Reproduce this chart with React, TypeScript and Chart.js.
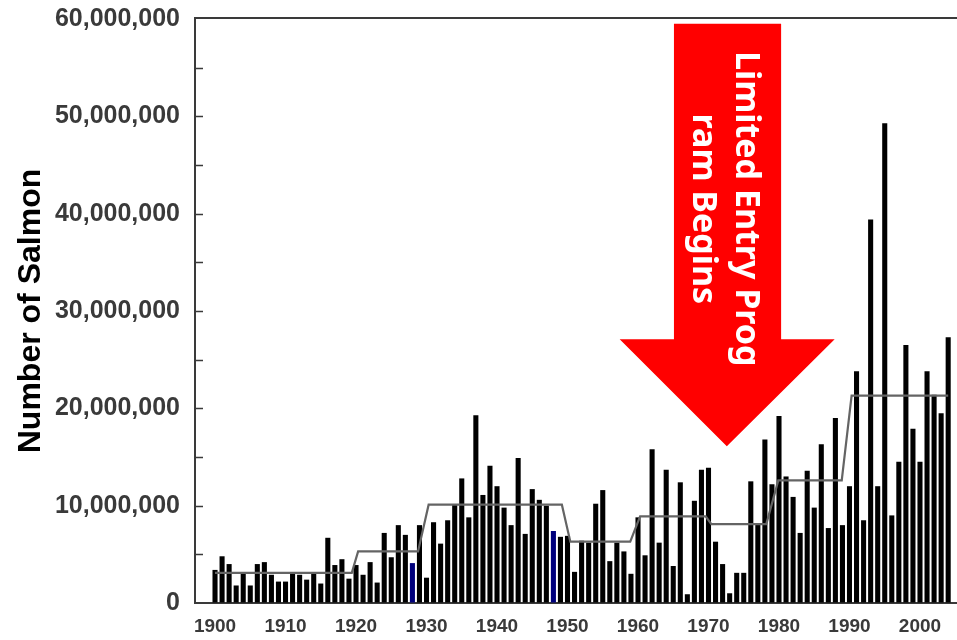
import { useEffect, useRef } from "react";
import { Chart, registerables } from "chart.js";

Chart.register(...registerables);

const MILLION = 1000000;

// Categories: one bar per year
const firstYear = 1900;
const lastYear = 2004;
const years: number[] = [];
for (let yr = firstYear; yr <= lastYear; yr++) years.push(yr);

// Number of salmon (millions) per year
const salmonMillions = [
  3.4, 4.8, 4.0, 1.8, 3.0, 1.8, 4.0, 4.2, 2.9, 2.2, // 1900-1909
  2.2, 3.0, 2.9, 2.4, 3.0, 2.0, 6.7, 3.9, 4.5, 2.5, // 1910-1919
  3.9, 2.9, 4.2, 2.1, 7.2, 4.7, 8.0, 7.0, 4.1, 8.0, // 1920-1929
  2.6, 8.3, 6.1, 8.5, 10.1, 12.8, 8.8, 19.3, 11.1, 14.1, // 1930-1939
  12.0, 9.8, 8.0, 14.9, 7.1, 11.7, 10.6, 10.0, 7.4, 6.8, // 1940-1949
  6.9, 3.2, 6.4, 6.2, 10.2, 11.6, 4.3, 6.2, 5.3, 3.0, // 1950-1959
  8.8, 4.9, 15.8, 6.2, 13.7, 3.8, 12.4, 0.9, 10.5, 13.7, // 1960-1969
  13.9, 6.3, 4.0, 1.0, 3.1, 3.1, 12.5, 8.1, 16.8, 12.2, // 1970-1979
  19.2, 13.0, 10.9, 7.2, 13.6, 9.8, 16.3, 7.7, 19.0, 8.0, // 1980-1989
  12.0, 23.8, 8.5, 39.4, 12.0, 49.3, 9.0, 14.5, 26.5, 17.9, // 1990-1999
  14.5, 23.8, 21.4, 19.5, 27.3, // 2000-2004
];

// Years drawn in dark blue
const highlightYears = [1928, 1948];

// Regime mean (step line) vertices
const trendYears = [1900, 1919.4, 1920.3, 1928.8, 1930.3, 1949.2, 1950.4, 1958.9, 1960.3, 1969.6, 1970.4, 1978.2, 1979.9, 1988.9, 1990.3, 2004];
const trendMillions = [3.1, 3.1, 5.3, 5.3, 10.1, 10.1, 6.3, 6.3, 8.9, 8.9, 8.1, 8.1, 12.6, 12.6, 21.3, 21.3];

// Axis ticks
const xTickYears = [1900, 1910, 1920, 1930, 1940, 1950, 1960, 1970, 1980, 1990, 2000];
const yTickStepMillions = 5;
const yLabelStepMillions = 10;
const yMaxMillions = 60;
const xMin = 1897.16;
const xMax = 2005.25;

// Annotation arrow (data units)
const arrowLines = ["Limited Entry Prog", "ram Begins"];
const arrowShaft = [1965.1, 1980.3];
const arrowHead = [1957.4, 1987.9];
const arrowTipYear = 1972.6;
const arrowTopMillions = 59.5;
const arrowNeckMillions = 27.1;
const arrowTipMillions = 16.1;
const arrowTextMillions = 40.5;

const annotationPlugin = {
  id: "salmonAnnotations",
  afterDatasetsDraw(chart: any) {
    const { ctx, chartArea, scales } = chart;
    const x = scales.x;
    const y = scales.y;
    ctx.save();
    // top frame line
    ctx.strokeStyle = "#3a3a3a";
    ctx.lineWidth = 2;
    ctx.beginPath();
    ctx.moveTo(chartArea.left - 1, chartArea.top - 1);
    ctx.lineTo(chartArea.right, chartArea.top - 1);
    ctx.stroke();
    // inward y tick marks
    ctx.lineWidth = 1.5;
    ctx.beginPath();
    for (const t of y.ticks) {
      if (t.value <= 0 || t.value >= yMaxMillions * MILLION) continue;
      const py = Math.round(y.getPixelForValue(t.value)) + 0.5;
      ctx.moveTo(chartArea.left, py);
      ctx.lineTo(chartArea.left + 8, py);
    }
    ctx.stroke();

    // red arrow
    const sl = x.getPixelForValue(arrowShaft[0]);
    const sr = x.getPixelForValue(arrowShaft[1]);
    const hl = x.getPixelForValue(arrowHead[0]);
    const hr = x.getPixelForValue(arrowHead[1]);
    const tx = x.getPixelForValue(arrowTipYear);
    const top = y.getPixelForValue(arrowTopMillions * MILLION);
    const neck = y.getPixelForValue(arrowNeckMillions * MILLION);
    const tip = y.getPixelForValue(arrowTipMillions * MILLION);
    ctx.fillStyle = "#ff0000";
    ctx.beginPath();
    ctx.moveTo(sl, top);
    ctx.lineTo(sr, top);
    ctx.lineTo(sr, neck);
    ctx.lineTo(hr, neck);
    ctx.lineTo(tx, tip);
    ctx.lineTo(hl, neck);
    ctx.lineTo(sl, neck);
    ctx.closePath();
    ctx.fill();

    // rotated white text
    const cx = (sl + sr) / 2;
    const cy = y.getPixelForValue(arrowTextMillions * MILLION);
    ctx.translate(cx, cy);
    ctx.rotate(Math.PI / 2);
    ctx.fillStyle = "#ffffff";
    ctx.font = "bold 34px 'Noto Sans', 'Open Sans', sans-serif";
    ctx.textAlign = "center";
    ctx.textBaseline = "alphabetic";
    ctx.fillText(arrowLines[0], 0, -8);
    ctx.fillText(arrowLines[1], 0, 35);
    ctx.restore();
  },
};

export default function App() {
  const ref = useRef<HTMLCanvasElement>(null);

  useEffect(() => {
    const barData = years.map((yr, i) => ({ x: yr, y: salmonMillions[i] * MILLION }));
    const trendData = trendYears.map((yr, i) => ({ x: yr, y: trendMillions[i] * MILLION }));
    const barColors = years.map((yr) => (highlightYears.includes(yr) ? "#00007c" : "#000000"));

    const chart = new Chart(ref.current as HTMLCanvasElement, {
      type: "bar",
      data: {
        datasets: [
          {
            type: "line",
            label: "Regime mean",
            data: trendData,
            borderColor: "#646464",
            borderWidth: 2.2,
            pointRadius: 0,
            tension: 0,
            fill: false,
            order: 0,
          } as any,
          {
            type: "bar",
            label: "Number of Salmon",
            data: barData,
            backgroundColor: barColors,
            borderWidth: 0,
            barPercentage: 0.9,
            categoryPercentage: 0.8,
            order: 1,
          } as any,
        ],
      },
      options: {
        animation: false,
        responsive: true,
        maintainAspectRatio: false,
        layout: { padding: { top: 19, right: 0, left: 0, bottom: 0 } },
        plugins: {
          legend: { display: false },
          tooltip: { enabled: false },
        },
        scales: {
          x: {
            type: "linear",
            min: xMin,
            max: xMax,
            offset: false,
            grid: { display: true, drawOnChartArea: false, drawTicks: false },
            border: { display: true, color: "#3a3a3a", width: 2 },
            afterBuildTicks: (scale: any) => {
              scale.ticks = xTickYears.map((v) => ({ value: v }));
            },
            afterFit: (scale: any) => {
              scale.height = 37;
              scale.paddingLeft = 0;
              scale.paddingRight = 0;
            },
            ticks: {
              autoSkip: false,
              maxRotation: 0,
              padding: 12,
              color: "#3a3a3a",
              font: { family: "'Liberation Sans', Arial, sans-serif", size: 19, weight: "bold" },
              callback: (v: any) => String(v),
            },
          },
          y: {
            type: "linear",
            min: 0,
            max: yMaxMillions * MILLION,
            grid: { display: true, drawOnChartArea: false, drawTicks: false },
            border: { display: true, color: "#3a3a3a", width: 2 },
            afterFit: (scale: any) => {
              scale.width = 195;
              scale.paddingTop = 0;
              scale.paddingBottom = 0;
            },
            ticks: {
              stepSize: yTickStepMillions * MILLION,
              padding: 15,
              color: "#3a3a3a",
              font: { family: "'Liberation Sans', Arial, sans-serif", size: 25, weight: "bold" },
              callback: (v: any) =>
                Number(v) % (yLabelStepMillions * MILLION) === 0 ? Number(v).toLocaleString("en-US") : "",
            },
            title: {
              display: true,
              text: "Number of Salmon",
              color: "#000000",
              padding: { top: 12, bottom: 0 },
              font: { family: "'Liberation Sans', Arial, sans-serif", size: 32, weight: "bold" },
            },
          },
        },
      },
      plugins: [annotationPlugin],
    });
    return () => chart.destroy();
  }, []);

  return (
    <div style={{ position: "fixed", left: 0, top: 0, width: 957, height: 640, background: "#ffffff" }}>
      <canvas ref={ref} />
    </div>
  );
}
